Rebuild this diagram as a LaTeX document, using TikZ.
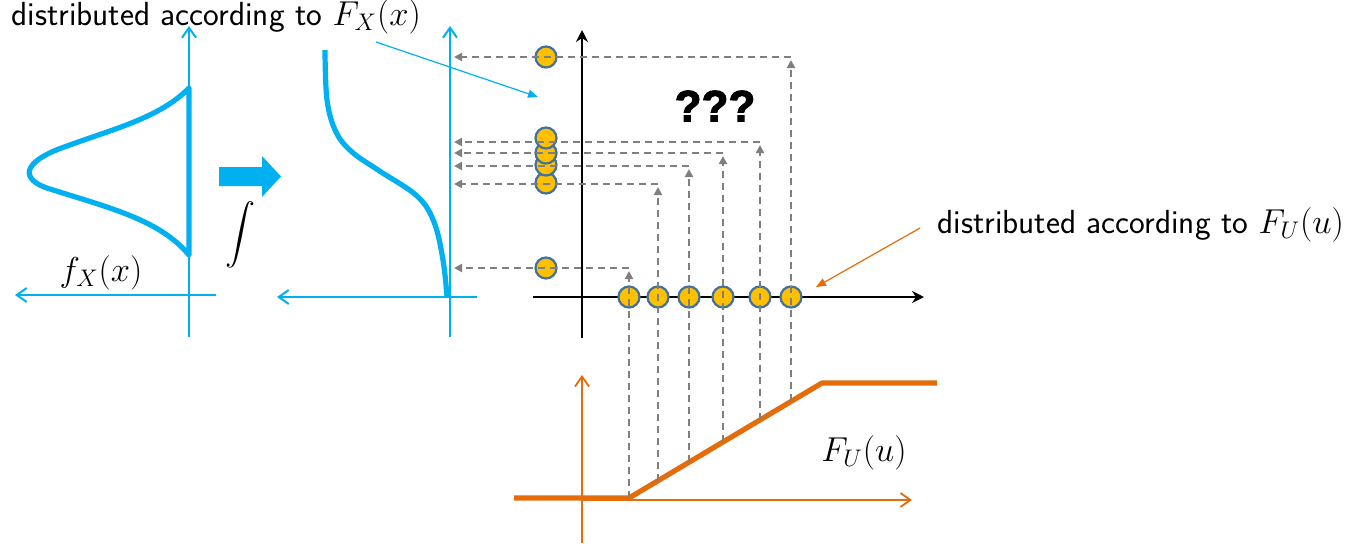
\documentclass[tikz,border=0pt]{standalone}
\usepackage{fontspec}
\usetikzlibrary{arrows.meta}
\newfontfamily\heavyfont[FakeBold=2.5]{Liberation Sans Bold}
\definecolor{cblue}{HTML}{00B0F0}
\definecolor{corange}{HTML}{E46C0A}
\definecolor{cgold}{HTML}{FFC000}
\definecolor{cdotline}{HTML}{41719C}
\definecolor{cgray}{HTML}{7F7F7F}
\tikzset{
  baxis/.style={cblue, line width=1pt, -{Straight Barb[length=5pt,width=7pt]}},
  oaxis/.style={corange, line width=0.9pt, -{Straight Barb[length=5pt,width=7pt]}},
  kaxis/.style={black, line width=1pt, -{Stealth[length=6pt,width=6pt,inset=2pt]}},
  bcurve/.style={cblue, line width=2.6pt, line join=round},
  ocurve/.style={corange, line width=2.6pt, line join=round},
  dot/.style={circle, fill=cgold, draw=cdotline, line width=1.1pt, minimum size=10.5pt, inner sep=0pt},
  gdash/.style={cgray, line width=1pt, dash pattern=on 3.5pt off 2.5pt, -{Triangle[length=4pt,width=4pt]}},
  lbl/.style={font=\sffamily\fontsize{16.7}{19}\selectfont, inner sep=0pt},
  mlbl/.style={font=\fontsize{17}{20}\selectfont, inner sep=0pt},
}
\begin{document}
\begin{tikzpicture}[x=0.5pt,y=-0.5pt]
\useasboundingbox (0,0) rectangle (1345,543);

% ---- left pdf plot
\coordinate (a1b) at (189,337); \coordinate (a1t) at (189,26);
\coordinate (a1r) at (216,295); \coordinate (a1l) at (15,295);
\draw[baxis] (a1b) -- (a1t);
\draw[baxis] (a1r) -- (a1l);
\draw[bcurve] (189,88) .. controls (160,118) and (110,130) .. (67,146)
  .. controls (20,162) and (20,180) .. (50,189)
  .. controls (110,208) and (160,220) .. (189,255) -- cycle;
\node[mlbl] (fx) at (101,273) {$f_X(x)$};

% ---- fat arrow and integral
\fill[cblue] (219,167) -- (262,167) -- (262,156) -- (281,176.5) -- (262,197) -- (262,186) -- (219,186) -- cycle;
\node[inner sep=0pt] (int) at (240,235) {\scalebox{1.5}{$\displaystyle\int$}};

% ---- CDF plot
\coordinate (a2b) at (450,337); \coordinate (a2t) at (450,26);
\coordinate (a2r) at (477,297); \coordinate (a2l) at (277,297);
\draw[baxis] (a2b) -- (a2t);
\draw[baxis] (a2r) -- (a2l);
\draw[bcurve] plot[smooth, tension=0.6] coordinates {(325,50) (327,100) (336,132) (352,152) (378,170) (417,196) (434,222) (443,260) (447,297)};

% ---- black axes
\coordinate (a3b) at (582,338); \coordinate (a3t) at (582,30);
\coordinate (a3l) at (533,297); \coordinate (a3r) at (924,297);
\draw[kaxis] (a3b) -- (a3t);
\draw[kaxis] (a3l) -- (a3r);

% ---- orange plot
\coordinate (a4b) at (582,543); \coordinate (a4t) at (582,375);
\coordinate (a4l) at (582,500); \coordinate (a4r) at (912,500);
\draw[oaxis] (a4b) -- (a4t);
\draw[oaxis] (a4l) -- (a4r);
\coordinate (o0) at (514,498); \coordinate (o1) at (629,498);
\coordinate (o2) at (822,383); \coordinate (o3) at (937,383);
\draw[ocurve] (o0) -- (o1) -- (o2) -- (o3);
\node[mlbl] (fu) at (864,453) {$F_U(u)$};

% ---- dots
\foreach \i/\x in {1/629,2/658,3/689,4/723,5/760,6/791}
  \node[dot] (h\i) at (\x,297) {};
\foreach \i/\y in {1/268,2/183,3/165,4/153,5/138,6/57}
  \node[dot] (v\i) at (546,\y) {};

% ---- dashed projections
\foreach \i/\x/\yb/\yt in {1/629/498/268, 2/658/481/184, 3/689/462/166, 4/723/442/153, 5/760/420/142, 6/791/401/57}{
  \coordinate (b\i) at (\x,\yb);
  \coordinate (t\i) at (\x,\yt+3);
  \coordinate (c\i) at (\x,\yt);
  \coordinate (e\i) at (454,\yt);
  \draw[gdash] (b\i) -- (t\i);
  \draw[gdash] (c\i) -- (e\i);
}

% ---- ???
\node[font=\heavyfont\fontsize{22}{24}\selectfont, inner sep=0pt] (q) at (715,106) {???};

% ---- labels
\node[lbl, anchor=base west] (lx) at (11,25) {distributed according to $F_X(x)$};
\coordinate (lxs) at (376,42); \coordinate (lxe) at (538,97);
\draw[cblue, line width=0.6pt, -{Triangle[length=5pt,width=4pt]}] (lxs) -- (lxe);

\node[lbl, anchor=base west] (lu) at (937,233) {distributed according to $F_U(u)$};
\coordinate (lus) at (920,228); \coordinate (lue) at (816,287);
\draw[corange, line width=0.6pt, -{Triangle[length=5pt,width=4pt]}] (lus) -- (lue);
\end{tikzpicture}
\end{document}
